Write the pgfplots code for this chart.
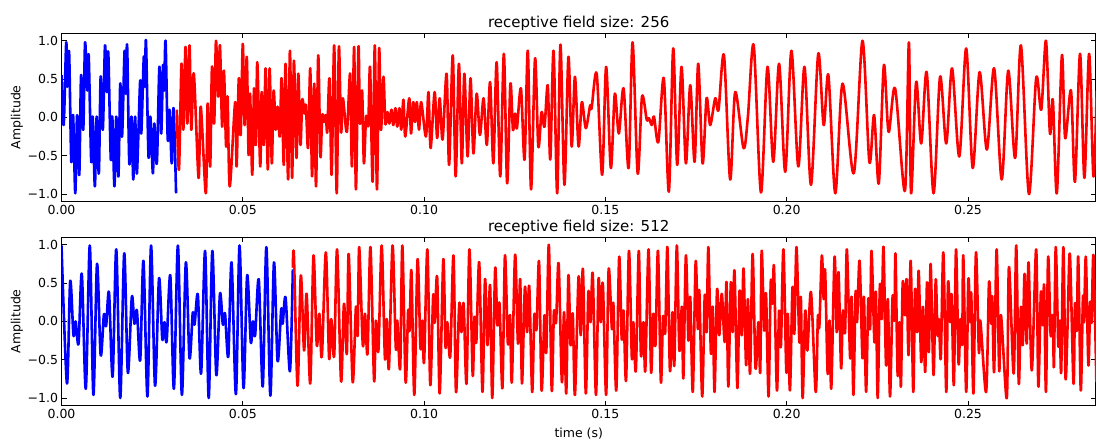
\documentclass[border=0pt]{standalone}
\usepackage{fontspec}
\setmainfont{DejaVu Sans}
\usepackage{pgfplots}
\pgfplotsset{compat=1.18}

\pgfplotsset{wavepanel/.style={
  scale only axis, anchor=south west,
  width=1034.5pt, height=168.6pt,
  xmin=0, xmax=0.2853, ymin=-1.1, ymax=1.1,
  xtick={0,0.05,0.1,0.15,0.2,0.25},
  xticklabels={0.00,0.05,0.10,0.15,0.20,0.25},
  ytick={-1,-0.5,0,0.5,1},
  yticklabels={−1.0,−0.5,0.0,0.5,1.0},
  tick align=inside, major tick length=5pt,
  tick style={black,line width=0.8pt},
  axis line style={black,line width=1pt},
  ticklabel style={font=\fontsize{12.5}{14}\selectfont},
  ylabel={Amplitude},
  every axis y label/.style={at={(axis description cs:-0.043,0.5)},rotate=90,
    anchor=center,font=\fontsize{12.5}{14}\selectfont},
  every axis title/.style={at={(axis description cs:0.5,1)},anchor=base,yshift=5.5pt,
    font=\fontsize{15}{18}\selectfont},
}}
\pgfplotsset{wave/.style={line width=2.6pt,smooth,tension=0.5,line join=round,mark=none}}

\begin{document}
\begin{tikzpicture}
\path[use as bounding box] (0,0) rectangle (1097pt,441pt);

% receptive field 256
\begin{axis}[wavepanel, at={(61.5pt,239.3pt)}, title={receptive field size: 256}]
\addplot[wave,blue] coordinates {
(0.0000,0.55) (0.0006,-0.10) (0.0013,0.98) (0.0016,0.40) (0.0021,0.85) (0.0027,-0.58)
(0.0032,0.03) (0.0038,-0.99) (0.0043,0.03) (0.0049,-0.75) (0.0054,0.55) (0.0060,-0.16)
(0.0065,0.98) (0.0071,0.35) (0.0075,0.81) (0.0082,-0.58) (0.0086,0.01) (0.0092,-0.90)
(0.0097,0.01) (0.0103,-0.73) (0.0108,0.53) (0.0114,-0.16) (0.0120,0.94) (0.0125,0.33)
(0.0129,0.85) (0.0136,-0.55) (0.0140,0.01) (0.0146,-0.90) (0.0151,0.01) (0.0157,-0.77)
(0.0162,0.44) (0.0167,-0.25) (0.0174,0.87) (0.0177,0.31) (0.0181,0.94) (0.0187,-0.60)
(0.0193,0.01) (0.0198,-0.81) (0.0203,0.01) (0.0208,-0.73) (0.0217,0.48) (0.0220,-0.21)
(0.0227,0.79) (0.0230,0.40) (0.0233,1.00) (0.0240,-0.51) (0.0245,0.01) (0.0252,-0.73)
(0.0256,-0.08) (0.0263,-0.60) (0.0270,0.66) (0.0275,-0.21) (0.0280,0.68) (0.0283,0.35)
(0.0287,1.00) (0.0293,-0.29) (0.0298,0.10) (0.0304,-0.60) (0.0309,0.12) (0.0316,-0.99)
};
\addplot[wave,red] coordinates {
(0.0318,0.10) (0.0324,-0.68) (0.0331,0.70) (0.0336,-0.16) (0.0342,0.92) (0.0347,-0.08)
(0.0353,0.94) (0.0358,-0.16) (0.0365,0.57) (0.0378,-0.79) (0.0384,0.14) (0.0398,-0.99)
(0.0403,0.18) (0.0410,-0.64) (0.0415,0.66) (0.0421,-0.08) (0.0426,1.00) (0.0432,0.27)
(0.0437,0.94) (0.0443,-0.12) (0.0448,0.61) (0.0454,-0.38) (0.0458,0.27) (0.0464,-0.90)
(0.0479,0.20) (0.0483,-0.64) (0.0489,0.51) (0.0494,-0.23) (0.0500,0.96) (0.0505,-0.10)
(0.0511,0.79) (0.0516,-0.49) (0.0520,0.31) (0.0526,-0.75) (0.0531,0.38) (0.0536,-0.36)
(0.0540,0.72) (0.0548,-0.64) (0.0552,0.33) (0.0558,-0.36) (0.0563,0.64) (0.0569,-0.68)
(0.0574,0.64) (0.0580,-0.60) (0.0585,0.35) (0.0591,-0.16) (0.0596,0.14) (0.0602,-0.25)
(0.0607,0.51) (0.0613,-0.62) (0.0618,0.70) (0.0625,-0.81) (0.0630,0.87) (0.0636,-0.79)
(0.0641,0.74) (0.0648,-0.53) (0.0653,0.57) (0.0659,-0.36) (0.0664,0.23) (0.0670,0.05)
(0.0674,0.16) (0.0680,-0.40) (0.0686,0.64) (0.0691,-0.77) (0.0697,0.44) (0.0702,-0.90)
(0.0708,0.81) (0.0714,-0.51) (0.0719,0.03) (0.0724,-0.06) (0.0729,0.03) (0.0733,-0.19)
(0.0739,0.51) (0.0745,-0.75) (0.0752,0.94) (0.0759,-0.99) (0.0765,0.92) (0.0771,-0.19)
(0.0776,0.25) (0.0787,-0.19) (0.0796,0.57) (0.0801,-0.64) (0.0807,0.92) (0.0812,-0.94)
(0.0819,0.92) (0.0823,-0.08) (0.0829,0.35) (0.0834,-0.60) (0.0840,0.01) (0.0846,-0.10)
(0.0851,0.66) (0.0858,-0.84) (0.0864,0.94) (0.0870,-0.94) (0.0876,0.90) (0.0881,-0.16)
(0.0888,0.53) (0.0893,-0.08) (0.0899,0.07) (0.0904,-0.08) (0.0910,0.10) (0.0915,-0.10)
(0.0921,0.12) (0.0926,-0.12) (0.0932,0.12) (0.0937,-0.16) (0.0943,0.23) (0.0948,-0.25)
(0.0959,0.25) (0.0964,-0.21) (0.0970,0.20) (0.0975,-0.06) (0.0980,0.20) (0.0986,-0.16)
(0.0992,0.20) (0.1005,-0.25) (0.1012,0.33) (0.1018,-0.40) (0.1029,0.33) (0.1036,-0.27)
(0.1043,0.25) (0.1051,-0.29) (0.1062,0.57) (0.1069,-0.62) (0.1079,0.81) (0.1087,-0.77)
(0.1096,0.70) (0.1104,-0.60) (0.1111,0.57) (0.1120,-0.51) (0.1128,0.51) (0.1136,-0.47)
(0.1145,0.31) (0.1154,-0.23) (0.1164,0.25) (0.1173,-0.36) (0.1182,0.46) (0.1191,-0.60)
(0.1200,0.72) (0.1210,-0.77) (0.1220,0.83) (0.1229,-0.86) (0.1238,0.44) (0.1245,-0.16)
(0.1251,0.05) (0.1256,-0.14) (0.1267,0.38) (0.1277,-0.55) (0.1286,0.87) (0.1295,-0.94)
(0.1306,0.77) (0.1315,-0.38) (0.1324,0.07) (0.1332,-0.12) (0.1341,0.42) (0.1348,-0.55)
(0.1357,0.87) (0.1367,-0.99) (0.1376,0.95) (0.1387,-0.88) (0.1398,0.79) (0.1407,-0.38)
(0.1416,0.53) (0.1426,-0.38) (0.1435,0.20) (0.1446,-0.14) (0.1458,0.16) (0.1462,0.12)
(0.1476,0.57) (0.1491,-0.75) (0.1502,0.66) (0.1515,-0.66) (0.1526,0.31) (0.1537,-0.21)
(0.1550,0.38) (0.1564,-0.66) (0.1575,0.98) (0.1589,-0.73) (0.1601,0.27) (0.1614,-0.03)
(0.1620,-0.01) (0.1628,-0.10) (0.1634,0.01) (0.1646,-0.32) (0.1661,0.51) (0.1675,-0.97)
(0.1687,0.90) (0.1698,-0.62) (0.1710,0.66) (0.1722,-0.60) (0.1734,0.42) (0.1746,-0.58)
(0.1756,0.70) (0.1768,-0.60) (0.1779,0.25) (0.1789,-0.10) (0.1803,0.25) (0.1812,0.10)
(0.1827,0.81) (0.1844,-0.81) (0.1858,0.33) (0.1881,-0.40) (0.1893,0.01) (0.1909,0.94)
(0.1929,-0.98) (0.1947,0.66) (0.1963,-0.58) (0.1979,0.70) (0.1996,-0.71) (0.2013,0.87)
(0.2032,-0.64) (0.2049,0.66) (0.2067,-0.88) (0.2087,0.83) (0.2102,-0.10) (0.2115,0.55)
(0.2134,-0.99) (0.2154,0.44) (0.2185,-0.73) (0.2209,1.00) (0.2228,-0.58) (0.2241,0.03)
(0.2254,-0.86) (0.2268,0.68) (0.2281,-0.19) (0.2299,0.38) (0.2326,-0.96) (0.2337,0.98)
(0.2343,-0.99) (0.2357,0.46) (0.2371,-0.34) (0.2386,0.59) (0.2405,-0.99) (0.2423,0.53)
(0.2440,-0.34) (0.2456,0.64) (0.2476,-0.51) (0.2495,0.90) (0.2513,-0.66) (0.2532,0.59)
(0.2552,-0.42) (0.2572,0.64) (0.2593,-0.81) (0.2611,0.61) (0.2630,-0.53) (0.2646,0.94)
(0.2668,-1.00) (0.2688,0.51) (0.2702,0.10) (0.2715,1.00) (0.2726,-0.21) (0.2734,0.23)
(0.2745,-0.99) (0.2759,0.81) (0.2768,-0.27) (0.2784,0.35) (0.2795,-0.84) (0.2809,0.83)
(0.2821,-0.79) (0.2834,0.83) (0.2846,-0.77) (0.2855,0.35)
};
\end{axis}

% receptive field 512
\begin{axis}[wavepanel, at={(61.5pt,35.3pt)}, title={receptive field size: 512},
  xlabel={time (s)},
  every axis x label/.style={at={(axis description cs:0.5,-0.163)},anchor=center,
    font=\fontsize{12.5}{14}\selectfont}]
\addplot[wave,blue] coordinates {
(0.0000,0.99) (0.0015,-0.81) (0.0024,0.53) (0.0033,-0.18) (0.0039,0.00) (0.0047,-0.29)
(0.0056,0.62) (0.0067,-0.88) (0.0078,0.99) (0.0088,-0.96) (0.0098,0.75) (0.0108,-0.44)
(0.0117,0.09) (0.0123,-0.06) (0.0131,0.38) (0.0141,-0.72) (0.0151,0.94) (0.0162,-1.00)
(0.0173,0.89) (0.0183,-0.67) (0.0194,0.32) (0.0201,-0.03) (0.0208,0.14) (0.0217,-0.51)
(0.0226,0.79) (0.0237,-0.98) (0.0247,0.99) (0.0258,-0.84) (0.0269,0.56) (0.0278,-0.23)
(0.0284,-0.01) (0.0290,-0.26) (0.0300,0.60) (0.0310,-0.88) (0.0321,0.99) (0.0332,-0.96)
(0.0343,0.77) (0.0353,-0.48) (0.0362,0.11) (0.0367,-0.04) (0.0376,0.35) (0.0385,-0.68)
(0.0396,0.92) (0.0406,-1.00) (0.0416,0.92) (0.0427,-0.70) (0.0437,0.36) (0.0445,-0.04)
(0.0451,0.10) (0.0460,-0.46) (0.0469,0.77) (0.0481,-0.95) (0.0491,0.99) (0.0502,-0.87)
(0.0512,0.60) (0.0522,-0.27) (0.0528,0.00) (0.0534,-0.18) (0.0544,0.55) (0.0555,-0.85)
(0.0565,0.97) (0.0576,-0.97) (0.0586,0.77) (0.0596,-0.52) (0.0606,0.16) (0.0610,-0.03)
(0.0618,0.31) (0.0630,-0.65) (0.0638,0.68)
};
\addplot[wave,red] coordinates {
(0.0638,0.70) (0.0641,0.86) (0.0651,-0.84) (0.0660,0.60) (0.0669,-0.38) (0.0676,0.36)
(0.0686,-0.81) (0.0695,0.86) (0.0704,-0.31) (0.0711,0.10) (0.0718,-0.46) (0.0729,0.90)
(0.0738,-0.48) (0.0744,0.03) (0.0752,-0.45) (0.0760,0.94) (0.0771,-0.78) (0.0779,0.23)
(0.0787,-0.42) (0.0792,0.88) (0.0803,-0.79) (0.0812,0.19) (0.0817,-0.18) (0.0821,0.97)
(0.0831,-0.31) (0.0837,0.10) (0.0844,-0.42) (0.0852,0.97) (0.0862,-0.77) (0.0867,0.01)
(0.0874,-0.38) (0.0883,0.99) (0.0892,-0.48) (0.0897,0.03) (0.0903,-0.61) (0.0913,0.99)
(0.0922,-0.35) (0.0926,0.01) (0.0934,-0.61) (0.0940,0.99) (0.0949,-0.79) (0.0956,0.14)
(0.0960,-0.12) (0.0965,0.66) (0.0973,-0.96) (0.0982,0.81) (0.0990,-0.35) (0.0995,0.01)
(0.1000,-0.53) (0.1009,0.94) (0.1017,-0.83) (0.1025,0.34) (0.1029,-0.02) (0.1036,0.58)
(0.1043,-0.94) (0.1053,0.81) (0.1059,-0.33) (0.1064,-0.01) (0.1072,-0.46) (0.1081,0.86)
(0.1088,-0.92) (0.1097,0.23) (0.1103,-0.14) (0.1109,0.23) (0.1117,-0.81) (0.1125,0.94)
(0.1134,-0.70) (0.1139,0.06) (0.1144,-0.27) (0.1152,0.77) (0.1161,-0.92) (0.1168,0.55)
(0.1175,-0.31) (0.1182,0.47) (0.1188,-1.00) (0.1196,0.69) (0.1202,-0.05) (0.1208,0.23)
(0.1216,-0.87) (0.1223,0.86) (0.1231,-0.29) (0.1237,0.08) (0.1242,-0.79) (0.1251,0.87)
(0.1259,-0.29) (0.1265,0.55) (0.1270,-0.81) (0.1278,0.45) (0.1284,-0.14) (0.1290,0.46)
(0.1298,-0.92) (0.1304,0.08) (0.1310,-0.10) (0.1317,0.78) (0.1324,-0.90) (0.1332,0.08)
(0.1337,-0.40) (0.1344,1.00) (0.1352,-0.90) (0.1358,0.12) (0.1364,-0.01) (0.1371,0.76)
(0.1380,-0.79) (0.1386,0.12) (0.1392,-0.94) (0.1398,0.60) (0.1404,-0.31) (0.1410,0.10)
(0.1416,-0.96) (0.1426,0.58) (0.1432,-0.18) (0.1438,0.68) (0.1446,-0.94) (0.1453,0.38)
(0.1459,-0.01) (0.1465,0.62) (0.1474,-0.96) (0.1481,0.55) (0.1487,-0.01) (0.1493,0.49)
(0.1502,-0.96) (0.1509,0.68) (0.1518,-0.10) (0.1522,0.23) (0.1530,-0.90) (0.1538,0.84)
(0.1545,-0.23) (0.1550,0.14) (0.1557,-0.77) (0.1565,0.92) (0.1573,-0.48) (0.1577,-0.01)
(0.1584,-0.64) (0.1592,0.92) (0.1598,-0.44) (0.1605,-0.01) (0.1610,-0.64) (0.1619,0.94)
(0.1626,-0.66) (0.1632,0.10) (0.1638,-0.31) (0.1645,0.92) (0.1653,-0.79) (0.1659,0.06)
(0.1665,-0.14) (0.1671,0.97) (0.1678,-0.64) (0.1685,0.12) (0.1690,-0.57) (0.1697,0.99)
(0.1704,-0.38) (0.1711,0.19) (0.1715,-0.74) (0.1722,0.86) (0.1729,-0.25) (0.1734,0.32)
(0.1741,-0.92) (0.1749,0.78) (0.1755,-0.10) (0.1759,0.40) (0.1767,-0.98) (0.1774,0.34)
(0.1779,-0.14) (0.1784,0.97) (0.1791,-0.42) (0.1796,0.19) (0.1801,-0.92) (0.1808,0.42)
(0.1814,-0.18) (0.1821,0.36) (0.1829,-0.27) (0.1834,0.51) (0.1839,-0.85) (0.1846,0.51)
(0.1851,-0.14) (0.1856,0.66) (0.1864,-0.87) (0.1870,0.40) (0.1876,-0.18) (0.1881,0.69)
(0.1888,-0.57) (0.1893,0.29) (0.1899,-0.68) (0.1906,0.88) (0.1914,-0.61) (0.1922,-0.01)
(0.1927,-0.66) (0.1931,0.92) (0.1938,-0.12) (0.1943,0.36) (0.1950,-0.98) (0.1956,0.51)
(0.1961,0.23) (0.1965,0.71) (0.1973,-0.90) (0.1979,0.14) (0.1984,-0.33) (0.1991,0.94)
(0.1999,-0.66) (0.2003,0.10) (0.2009,-0.90) (0.2016,0.45) (0.2021,-0.16) (0.2027,0.97)
(0.2035,-0.27) (0.2039,0.32) (0.2044,-1.00) (0.2051,0.14) (0.2057,-0.38) (0.2067,0.38)
(0.2080,-0.92) (0.2086,0.06) (0.2090,-0.07) (0.2097,0.86) (0.2102,0.29) (0.2106,0.66)
(0.2113,-0.68) (0.2118,0.01) (0.2123,-0.87) (0.2132,0.84) (0.2138,-0.14) (0.2143,0.64)
(0.2150,-0.61) (0.2155,0.14) (0.2161,-0.14) (0.2166,0.94) (0.2175,-0.48) (0.2179,0.32)
(0.2184,-0.96) (0.2190,0.38) (0.2194,-0.01) (0.2201,0.79) (0.2209,-0.48) (0.2213,0.32)
(0.2219,-0.92) (0.2225,0.29) (0.2230,-0.10) (0.2234,0.92) (0.2242,-0.27) (0.2246,0.38)
(0.2251,-1.00) (0.2257,0.47) (0.2262,0.03) (0.2267,0.97) (0.2274,-0.57) (0.2279,0.29)
(0.2285,-0.98) (0.2292,0.32) (0.2297,0.01) (0.2300,0.88) (0.2306,-0.70) (0.2311,-0.01)
(0.2315,-0.85) (0.2320,0.51) (0.2326,0.08) (0.2331,0.55) (0.2336,-0.44) (0.2342,0.79)
(0.2349,-0.92) (0.2354,0.42) (0.2360,-0.14) (0.2364,0.66) (0.2371,-0.53) (0.2376,0.19)
(0.2382,-0.66) (0.2387,0.51) (0.2392,-0.40) (0.2397,0.75) (0.2405,-0.70) (0.2411,0.55)
(0.2416,-0.18) (0.2420,0.03) (0.2425,-0.48) (0.2432,0.90) (0.2440,-0.92) (0.2445,0.51)
(0.2451,-0.01) (0.2455,0.34) (0.2461,-0.83) (0.2467,0.94) (0.2474,-0.55) (0.2479,0.03)
(0.2484,-0.29) (0.2487,0.86) (0.2495,-0.92) (0.2501,0.55) (0.2506,-0.01) (0.2509,0.36)
(0.2515,-0.94) (0.2522,0.90) (0.2530,-0.40) (0.2534,0.01) (0.2550,-0.92) (0.2558,0.51)
(0.2564,-0.03) (0.2567,0.32) (0.2572,-0.66) (0.2579,0.94) (0.2586,-0.64) (0.2591,0.08)
(0.2607,-1.00) (0.2613,0.71) (0.2626,-0.68) (0.2633,0.99) (0.2640,-0.81) (0.2646,0.19)
(0.2651,-0.31) (0.2656,0.62) (0.2662,-0.29) (0.2667,0.77) (0.2676,-0.64) (0.2688,0.94)
(0.2694,-0.85) (0.2701,0.38) (0.2706,-0.05) (0.2710,0.47) (0.2715,-0.92) (0.2721,0.84)
(0.2728,-0.18) (0.2734,0.08) (0.2737,-0.59) (0.2742,0.97) (0.2749,-0.31) (0.2753,0.01)
(0.2757,-0.66) (0.2763,0.97) (0.2769,-0.74) (0.2775,0.01) (0.2781,0.88) (0.2791,-0.81)
(0.2795,0.23) (0.2800,-0.12) (0.2804,0.84) (0.2811,-0.90) (0.2817,0.32) (0.2820,-0.01)
(0.2825,0.84) (0.2832,-0.57) (0.2837,0.25) (0.2841,-0.01) (0.2846,0.86) (0.2854,-0.79)
};
\end{axis}
\end{tikzpicture}
\end{document}
